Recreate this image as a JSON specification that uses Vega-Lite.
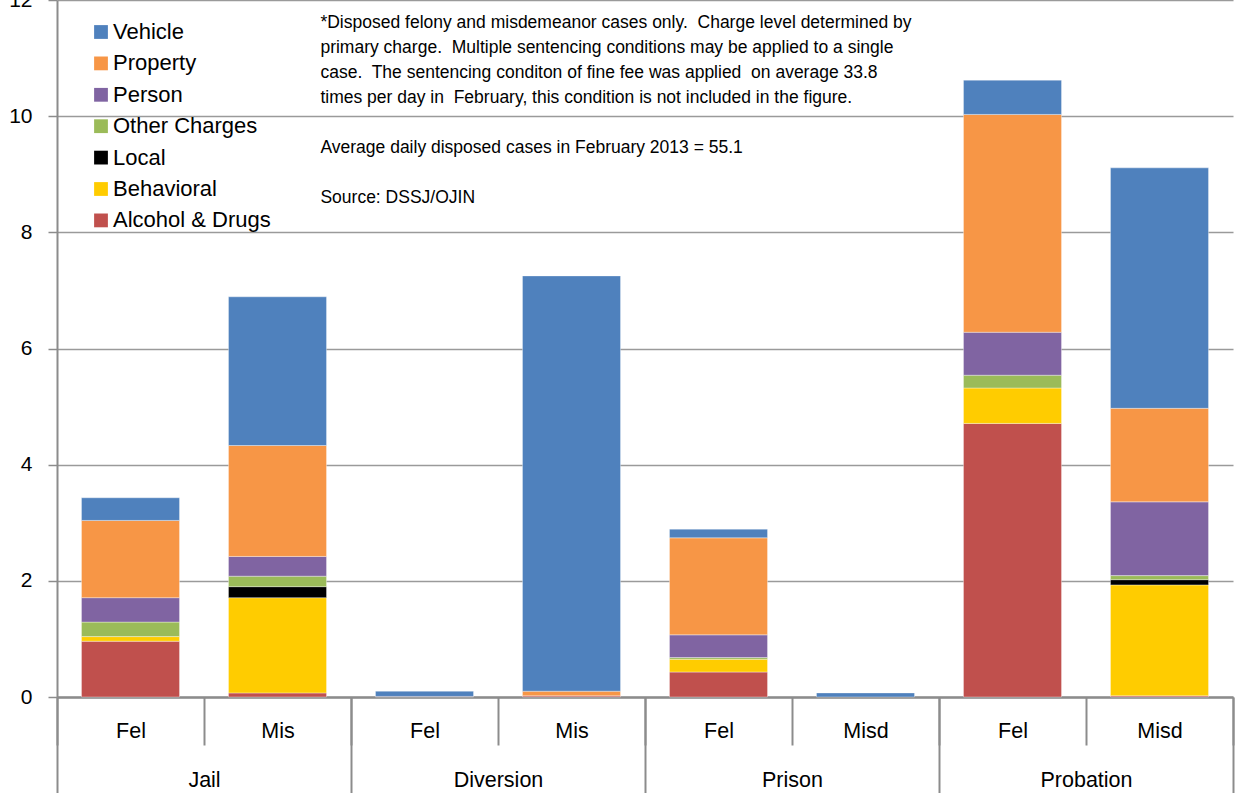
{
  "$schema": "https://vega.github.io/schema/vega-lite/v6.json",
  "width": 1176,
  "height": 697,
  "autosize": {"type": "none"},
  "padding": {"left": 57, "top": 0, "right": 2, "bottom": 96},
  "background": "#ffffff",
  "config": {
    "view": {"stroke": null},
    "font": "Liberation Sans",
    "text": {"font": "Liberation Sans", "fontSize": 17.5, "lineHeight": 25, "color": "#000000", "align": "left", "baseline": "top"}
  },
  "data": {
    "values": [
      {"bar": "Jail Fel", "group": "Jail", "charge": "Alcohol & Drugs", "value": 0.96},
      {"bar": "Jail Fel", "group": "Jail", "charge": "Behavioral", "value": 0.08},
      {"bar": "Jail Fel", "group": "Jail", "charge": "Other Charges", "value": 0.25},
      {"bar": "Jail Fel", "group": "Jail", "charge": "Person", "value": 0.42},
      {"bar": "Jail Fel", "group": "Jail", "charge": "Property", "value": 1.33},
      {"bar": "Jail Fel", "group": "Jail", "charge": "Vehicle", "value": 0.39},
      {"bar": "Jail Mis", "group": "Jail", "charge": "Alcohol & Drugs", "value": 0.07},
      {"bar": "Jail Mis", "group": "Jail", "charge": "Behavioral", "value": 1.64},
      {"bar": "Jail Mis", "group": "Jail", "charge": "Local", "value": 0.19},
      {"bar": "Jail Mis", "group": "Jail", "charge": "Other Charges", "value": 0.18},
      {"bar": "Jail Mis", "group": "Jail", "charge": "Person", "value": 0.34},
      {"bar": "Jail Mis", "group": "Jail", "charge": "Property", "value": 1.91},
      {"bar": "Jail Mis", "group": "Jail", "charge": "Vehicle", "value": 2.56},
      {"bar": "Diversion Fel", "group": "Diversion", "charge": "Alcohol & Drugs", "value": 0.01},
      {"bar": "Diversion Fel", "group": "Diversion", "charge": "Vehicle", "value": 0.09},
      {"bar": "Diversion Mis", "group": "Diversion", "charge": "Alcohol & Drugs", "value": 0.02},
      {"bar": "Diversion Mis", "group": "Diversion", "charge": "Property", "value": 0.08},
      {"bar": "Diversion Mis", "group": "Diversion", "charge": "Vehicle", "value": 7.15},
      {"bar": "Prison Fel", "group": "Prison", "charge": "Alcohol & Drugs", "value": 0.43},
      {"bar": "Prison Fel", "group": "Prison", "charge": "Behavioral", "value": 0.22},
      {"bar": "Prison Fel", "group": "Prison", "charge": "Other Charges", "value": 0.03},
      {"bar": "Prison Fel", "group": "Prison", "charge": "Person", "value": 0.39},
      {"bar": "Prison Fel", "group": "Prison", "charge": "Property", "value": 1.67},
      {"bar": "Prison Fel", "group": "Prison", "charge": "Vehicle", "value": 0.15},
      {"bar": "Prison Misd", "group": "Prison", "charge": "Vehicle", "value": 0.07},
      {"bar": "Probation Fel", "group": "Probation", "charge": "Alcohol & Drugs", "value": 4.71},
      {"bar": "Probation Fel", "group": "Probation", "charge": "Behavioral", "value": 0.61},
      {"bar": "Probation Fel", "group": "Probation", "charge": "Other Charges", "value": 0.22},
      {"bar": "Probation Fel", "group": "Probation", "charge": "Person", "value": 0.74},
      {"bar": "Probation Fel", "group": "Probation", "charge": "Property", "value": 3.75},
      {"bar": "Probation Fel", "group": "Probation", "charge": "Vehicle", "value": 0.59},
      {"bar": "Probation Misd", "group": "Probation", "charge": "Alcohol & Drugs", "value": 0.02},
      {"bar": "Probation Misd", "group": "Probation", "charge": "Behavioral", "value": 1.91},
      {"bar": "Probation Misd", "group": "Probation", "charge": "Local", "value": 0.09},
      {"bar": "Probation Misd", "group": "Probation", "charge": "Other Charges", "value": 0.07},
      {"bar": "Probation Misd", "group": "Probation", "charge": "Person", "value": 1.27},
      {"bar": "Probation Misd", "group": "Probation", "charge": "Property", "value": 1.61},
      {"bar": "Probation Misd", "group": "Probation", "charge": "Vehicle", "value": 4.14}
    ]
  },
  "layer": [
    {
      "mark": {"type": "bar", "width": {"band": 0.667}, "stroke": "#ffffff", "strokeWidth": 0.6, "strokeOpacity": 0.6},
      "encoding": {
        "x": {
          "field": "bar", "type": "nominal",
          "sort": ["Jail Fel", "Jail Mis", "Diversion Fel", "Diversion Mis", "Prison Fel", "Prison Misd", "Probation Fel", "Probation Misd"],
          "scale": {"paddingInner": 0, "paddingOuter": 0},
          "axis": {
            "title": null, "orient": "bottom",
            "labelExpr": "split(datum.label, ' ')[1]",
            "tickBand": "extent", "tickSize": 48, "tickColor": "#8c8c8c", "tickWidth": 2,
            "domainColor": "#8c8c8c", "domainWidth": 2.5,
            "labelFontSize": 21.5, "labelColor": "#000000", "labelPadding": -25, "labelAngle": 0,
            "grid": false
          }
        },
        "y": {
          "field": "value", "type": "quantitative", "stack": "zero",
          "scale": {"domain": [0, 12], "nice": false},
          "axis": {
            "title": null, "values": [0, 2, 4, 6, 8, 10, 12], "format": "d",
            "grid": true, "gridColor": "#9a9a9a", "gridWidth": 1.5,
            "domainColor": "#8c8c8c", "domainWidth": 2,
            "tickColor": "#8c8c8c", "tickSize": 9, "tickWidth": 1.5,
            "labelFontSize": 21, "labelColor": "#000000", "labelPadding": 16
          }
        },
        "color": {
          "field": "charge", "type": "nominal",
          "scale": {
            "domain": ["Vehicle", "Property", "Person", "Other Charges", "Local", "Behavioral", "Alcohol & Drugs"],
            "range": ["#4F81BD", "#F79646", "#8064A2", "#9BBB59", "#000000", "#FFCC00", "#C0504D"]
          },
          "legend": {
            "title": null, "orient": "none", "legendX": 33, "legendY": 21,
            "symbolType": "square", "symbolSize": 190, "symbolStrokeWidth": 0,
            "labelFontSize": 22, "labelColor": "#000000", "labelOffset": 1, "rowPadding": 9.4
          }
        },
        "order": {"field": "charge", "sort": "ascending"}
      }
    },
    {
      "mark": {"type": "tick", "opacity": 0},
      "encoding": {
        "x": {
          "field": "group", "type": "nominal",
          "sort": ["Jail", "Diversion", "Prison", "Probation"],
          "scale": {"paddingInner": 0, "paddingOuter": 0},
          "axis": {
            "title": null, "orient": "bottom",
            "tickBand": "extent", "tickSize": 96, "tickColor": "#8c8c8c", "tickWidth": 2,
            "domain": false,
            "labelFontSize": 21.5, "labelColor": "#000000", "labelPadding": -24, "labelAngle": 0,
            "grid": false
          }
        },
        "y": {"datum": 0, "type": "quantitative"}
      }
    },
    {
      "data": {"values": [{"note": "footnote"}]},
      "mark": {
        "type": "text",
        "text": [
          "*Disposed felony and misdemeanor cases only.\u00a0 Charge level determined by",
          "primary charge.\u00a0 Multiple sentencing conditions may be applied to a single",
          "case.\u00a0 The sentencing conditon of fine fee was applied\u00a0 on average 33.8",
          "times per day in\u00a0 February, this condition is not included in the figure."
        ]
      },
      "encoding": {
        "x": {"datum": 0.224, "type": "quantitative", "scale": {"domain": [0, 1], "nice": false}, "axis": null},
        "y": {"datum": 11.76, "type": "quantitative"}
      }
    },
    {
      "data": {"values": [{"note": "average"}]},
      "mark": {"type": "text", "text": "Average daily disposed cases in February 2013 = 55.1"},
      "encoding": {
        "x": {"datum": 0.224, "type": "quantitative", "scale": {"domain": [0, 1], "nice": false}, "axis": null},
        "y": {"datum": 9.607, "type": "quantitative"}
      }
    },
    {
      "data": {"values": [{"note": "source"}]},
      "mark": {"type": "text", "text": "Source: DSSJ/OJIN"},
      "encoding": {
        "x": {"datum": 0.224, "type": "quantitative", "scale": {"domain": [0, 1], "nice": false}, "axis": null},
        "y": {"datum": 8.747, "type": "quantitative"}
      }
    }
  ],
  "resolve": {"scale": {"x": "independent"}, "axis": {"x": "independent"}}
}
